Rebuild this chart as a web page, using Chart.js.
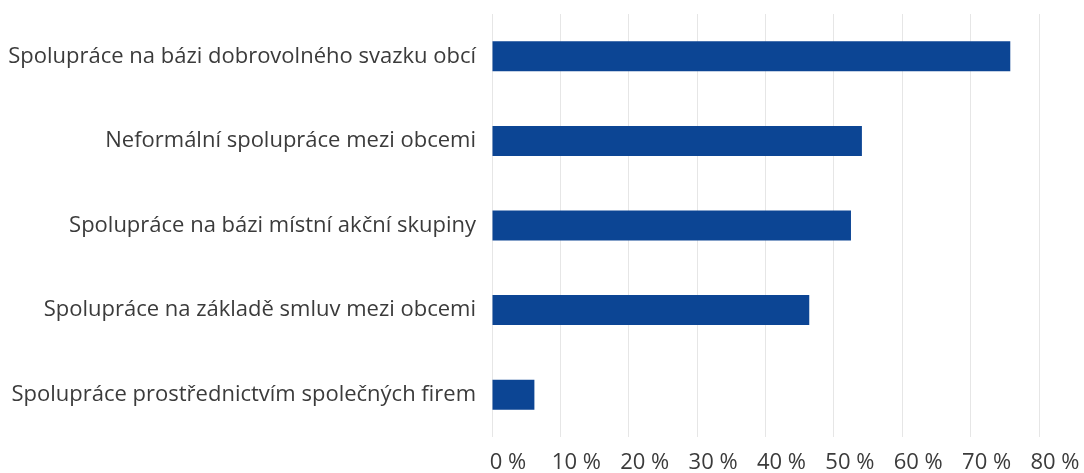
<!DOCTYPE html>
<html>
<head>
<meta charset="utf-8">
<script src="https://cdn.jsdelivr.net/npm/chart.js@4"></script>
<style>
html,body{margin:0;padding:0;background:#fff;}
#wrap{width:1084px;height:473px;}
</style>
</head>
<body>
<div id="wrap"><canvas id="c" width="1084" height="473"></canvas></div>
<script>
const categories = [
  "Spolupráce na bázi dobrovolného svazku obcí",
  "Neformální spolupráce mezi obcemi",
  "Spolupráce na bázi místní akční skupiny",
  "Spolupráce na základě smluv mezi obcemi",
  "Spolupráce prostřednictvím společných firem"
];
const values = [75.8, 54.1, 52.5, 46.4, 6.2];
const xTicks = [0, 10, 20, 30, 40, 50, 60, 70, 80];

const FONT = "'Open Sans', 'Noto Sans', sans-serif";
new Chart(document.getElementById('c'), {
  type: 'bar',
  data: {
    labels: categories,
    datasets: [{
      data: values,
      backgroundColor: '#0c4594',
      borderWidth: 0,
      barPercentage: 0.71,
      categoryPercentage: 0.5
    }]
  },
  options: {
    indexAxis: 'y',
    responsive: false,
    animation: false,
    layout: { padding: { top: 14, right: 45, bottom: 0, left: 0 } },
    plugins: { legend: { display: false }, tooltip: { enabled: false } },
    scales: {
      x: {
        min: xTicks[0], max: xTicks[xTicks.length - 1],
        afterBuildTicks: s => { s.ticks = xTicks.map(v => ({ value: v })); },
        ticks: {
          padding: 13,
          labelOffset: 16,
          color: '#3b3b3b',
          font: { family: FONT, size: 22 },
          callback: v => v + ' %',
          maxRotation: 0
        },
        grid: { color: '#e6e6e6', lineWidth: 1, drawTicks: false },
        border: { display: false },
        afterFit: s => { s.height = 36; }
      },
      y: {
        ticks: {
          padding: 16,
          color: '#3b3b3b',
          font: { family: FONT, size: 22 }
        },
        grid: { display: false, drawTicks: false },
        border: { display: false },
        afterFit: s => { s.width = 492; s.paddingTop = 0; s.paddingBottom = 0; }
      }
    }
  }
});
</script>
</body>
</html>
